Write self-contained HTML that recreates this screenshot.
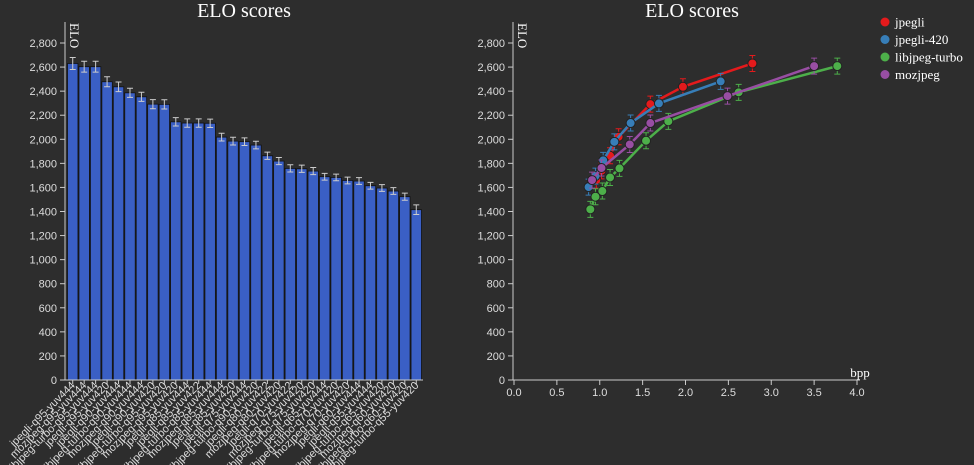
<!DOCTYPE html>
<html><head><meta charset="utf-8"><style>
body{margin:0;background:#2d2d2d;}
svg{display:block;font-family:"Liberation Sans",sans-serif;}
.tick{fill:#ddd;font-size:11px;}
.ttl{fill:#fff;font-family:"Liberation Serif",serif;font-size:20px;}
.ax{stroke:#ccc;stroke-width:1;fill:none;}
</style></head><body>
<svg id="c" width="974" height="465"></svg>
<script>
const barNames=["jpegli-q95-yuv444","mozjpeg-q95-yuv444","libjpeg-turbo-q95-yuv444","jpegli-q95-yuv420","jpegli-q90-yuv444","libjpeg-turbo-q90-yuv444","mozjpeg-q90-yuv444","jpegli-q90-yuv420","libjpeg-turbo-q95-yuv420","mozjpeg-q95-yuv420","jpegli-q85-yuv444","jpegli-q85-yuv422","libjpeg-turbo-q85-yuv444","mozjpeg-q85-yuv444","jpegli-q85-yuv420","jpegli-q75-yuv444","libjpeg-turbo-q90-yuv420","jpegli-q80-yuv422","mozjpeg-q80-yuv420","jpegli-q70-yuv422","mozjpeg-q75-yuv420","libjpeg-turbo-q75-yuv420","jpegli-q65-yuv444","libjpeg-turbo-q70-yuv420","mozjpeg-q70-yuv420","jpegli-q60-yuv444","jpegli-q55-yuv444","libjpeg-turbo-q65-yuv420","mozjpeg-q60-yuv420","libjpeg-turbo-q60-yuv420","libjpeg-turbo-q55-yuv420"];
const barValues=[2630,2603,2603,2478,2436,2386,2353,2292,2290,2145,2135,2135,2133,2018,1985,1980,1952,1863,1819,1758,1755,1736,1689,1683,1658,1653,1614,1595,1570,1523,1415];
const barErr=[50,45,45,42,40,38,38,38,38,35,35,35,35,32,32,32,32,30,30,30,30,30,28,28,28,28,28,28,28,30,40];
const yTicks=[0,200,400,600,800,1000,1200,1400,1600,1800,2000,2200,2400,2600,2800];
const xTicks=[0,0.5,1,1.5,2,2.5,3,3.5,4];
const seriesNames=["jpegli","jpegli-420","libjpeg-turbo","mozjpeg"];
const seriesColors=["#e41a1c","#377eb8","#4daf4a","#984ea3"];
const jpegliX=[2.78,1.97,1.59,1.22,1.12,1.02,0.96];
const jpegliY=[2630,2436,2292,2021,1863,1738,1661];
const jpegli420X=[2.41,1.69,1.36,1.17,1.04,0.95,0.87];
const jpegli420Y=[2481,2298,2135,1979,1825,1694,1603];
const turboX=[3.77,2.62,1.80,1.54,1.23,1.12,1.03,0.95,0.89];
const turboY=[2608,2390,2149,1988,1758,1683,1570,1523,1418];
const mozX=[3.50,2.49,1.59,1.35,1.02,0.91];
const mozY=[2608,2359,2135,1957,1761,1661];
const scatterXs=[jpegliX,jpegli420X,turboX,mozX];
const scatterYs=[jpegliY,jpegli420Y,turboY,mozY];

const NS="http://www.w3.org/2000/svg";
const svg=document.getElementById('c');
function mk(t,a,p){const e=document.createElementNS(NS,t);for(const k in a)e.setAttribute(k,a[k]);(p||svg).appendChild(e);return e;}
const y=v=>380-v*(337/2800);
const bx0=67,bw=(422-67)/barNames.length;
const sx=v=>514+v*85.75;

// titles
let t=mk('text',{x:244,y:17,'text-anchor':'middle',class:'ttl'});t.textContent='ELO scores';

t=mk('text',{x:692,y:17,'text-anchor':'middle',class:'ttl'});t.textContent='ELO scores';


function yAxis(x0,name){
  const g=mk('g',{});
  
  mk('line',{x1:x0,x2:x0,y1:y(0),y2:22,class:'ax'},g);
  yTicks.forEach(v=>{
    mk('line',{x1:x0-5,x2:x0,y1:y(v),y2:y(v),class:'ax'},g);
    const tx=mk('text',{x:x0-8,y:y(v)+4,'text-anchor':'end',class:'tick'},g);
    tx.textContent=v.toLocaleString('en-US');
  });
  const l=mk('text',{transform:`translate(${x0+5},23) rotate(90)`,fill:'#fff','font-family':'Liberation Serif,serif','font-size':'13px'},g);
  l.textContent='ELO';
}
yAxis(65,'bar-y-axis');
yAxis(513,'scatter-y-axis');

// bars
const bg=mk('g',{});

barValues.forEach((v,i)=>{
  const x=bx0+i*bw;
  const r=mk('rect',{x:x+0.5,y:y(v),width:bw-1,height:y(0)-y(v),fill:'#3a5fc5',stroke:'#111','stroke-width':0.8},bg);
  
  
  const cx=x+bw/2,e=barErr[i];
  mk('path',{d:`M${cx},${y(v+e)}V${y(v-e)}M${cx-3},${y(v+e)}H${cx+3}M${cx-3},${y(v-e)}H${cx+3}`,stroke:'#ccc','stroke-width':1,fill:'none'},bg);
  mk('line',{x1:cx,x2:cx,y1:380,y2:384,class:'ax'},bg);
  const lb=mk('text',{transform:`translate(${cx+3},386) rotate(-45)`,'text-anchor':'end',class:'tick','font-size':'10px'},bg);
  lb.textContent=barNames[i];
});
const bxa=mk('line',{x1:65,x2:423,y1:380,y2:380,class:'ax'});


// scatter x axis
const xg=mk('g',{});

mk('line',{x1:513,x2:860,y1:380,y2:380,class:'ax'},xg);
xTicks.forEach(v=>{
  mk('line',{x1:sx(v),x2:sx(v),y1:380,y2:385,class:'ax'},xg);
  const tx=mk('text',{x:sx(v),y:396,'text-anchor':'middle',class:'tick'},xg);
  tx.textContent=v.toFixed(1);
});
const bl=mk('text',{x:860,y:377,'text-anchor':'middle',fill:'#fff','font-family':'Liberation Serif,serif','font-size':'13px'},xg);
bl.textContent='bpp';

// series
seriesNames.forEach((n,s)=>{
  const g=mk('g',{});
  
  const xs=scatterXs[s],ys=scatterYs[s],c=seriesColors[s];
  mk('polyline',{points:xs.map((v,i)=>sx(v)+','+y(ys[i])).join(' '),fill:'none',stroke:c,'stroke-width':2.5},g);
  xs.forEach((v,i)=>{
    const cx=sx(v),cy=y(ys[i]);
    mk('path',{d:`M${cx},${cy-8}V${cy+8}M${cx-3},${cy-8}H${cx+3}M${cx-3},${cy+8}H${cx+3}`,stroke:c,'stroke-width':1,fill:'none'},g);
    const p=mk('circle',{cx,cy,r:4.5,fill:c,stroke:'#222','stroke-width':1},g);
    
  });
  const le=mk('g',{});
  
  const ly=22+s*17.5;
  mk('circle',{cx:885,cy:ly,r:4.5,fill:c},le);
  const lt=mk('text',{x:895,y:ly+4.5,fill:'#fff','font-family':'Liberation Serif,serif','font-size':'13px'},le);
  lt.textContent=n;
});
</script>
</body></html>
